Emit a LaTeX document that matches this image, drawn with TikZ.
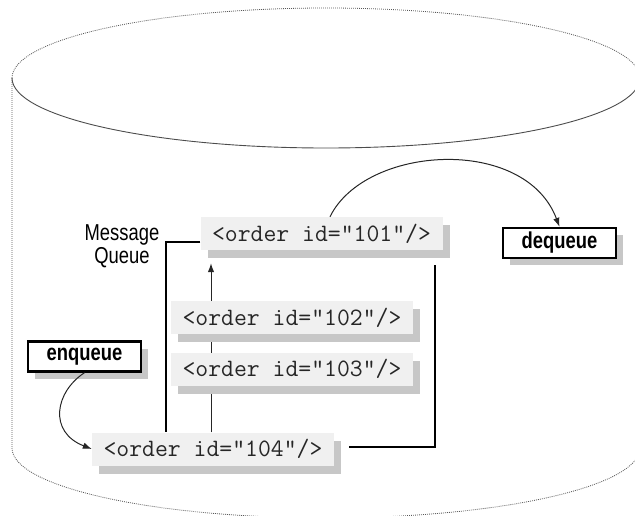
\documentclass[tikz,border=0pt]{standalone}
\usepackage{fontspec}
\setmainfont{Liberation Sans}
\newfontfamily\lblfont[FakeStretch=0.8]{Liberation Sans}
\newfontfamily\opfont[FakeStretch=0.8]{Liberation Sans}
\usetikzlibrary{arrows.meta,shadows,calc}
\pgfdeclarelayer{bg}
\pgfsetlayers{bg,main}
\begin{document}
\begin{tikzpicture}[x=1pt,y=-1pt,
  msg/.style={fill=black!6, minimum width=242pt, minimum height=33pt, inner sep=0pt,
    font=\ttfamily\fontsize{25}{27}\selectfont, text=black!85,
    drop shadow={shadow xshift=7pt, shadow yshift=-8pt, fill=black!22, opacity=1}},
  opbox/.style={draw, line width=2.4pt, fill=white, minimum width=112.6pt, minimum height=30pt, inner sep=0pt,
    font=\opfont\bfseries\fontsize{23}{25}\selectfont,
    drop shadow={shadow xshift=7pt, shadow yshift=-7pt, fill=black!22, opacity=1}},
  dotline/.style={black!65, line width=0.8pt, dash pattern=on 0.9pt off 1.1pt},
  arr/.style={line width=1pt, black!85, -{Latex[length=9pt,width=6.5pt]}},
  bracket/.style={line width=2pt, black}
]
\useasboundingbox (0,0) rectangle (635,515);
\clip (0,0) rectangle (635,515);

% cylinder
\draw[dotline] (12,78) arc[start angle=180, end angle=0, x radius=314pt, y radius=70pt];
\draw[black!70, line width=0.9pt] (12,78) arc[start angle=180, end angle=360, x radius=314pt, y radius=70pt];
\draw[dotline] (12,78) -- (12,448) arc[start angle=180, end angle=360, x radius=314pt, y radius=70pt] -- (640,78);

% nodes
\node[msg] (n101) at (321.5,233.5) {<order id="101"/>};
\node[msg] (n102) at (292,317.5) {<order id="102"/>};
\node[msg] (n103) at (292,369) {<order id="103"/>};
\node[msg] (n104) at (213,449) {<order id="104"/>};
\node[opbox] (enq) at (84.5,356.5) {enqueue};
\node[opbox] (deq) at (559.5,243) {dequeue};
\node[font=\lblfont\fontsize{23}{23}\selectfont, align=center, inner sep=0pt] (lbl) at (122,246) {Message\\Queue};

\coordinate (xa) at (211,0);
\coordinate (xl) at (166,0);

\begin{pgfonlayer}{bg}
\draw[arr] (n104.north -| xa) -- ($(n101.south -| xa)+(0,13)$);
\end{pgfonlayer}

% queue bracket
\draw[bracket] ($(n101.west)+(0,8.5)$) -| (n104.north -| xl);
\draw[bracket] ($(n101.south east)+(-8,15)$) |- ($(n104.east)+(15,-2)$);

% enqueue / dequeue arrows
\draw[arr] (enq.south) .. controls (55,392) and (48,432) .. (n104.west);
\draw[arr] ($(n101.north)+(8.5,0)$) .. controls (365,145) and (525,135) .. (deq.north);
\end{tikzpicture}
\end{document}
